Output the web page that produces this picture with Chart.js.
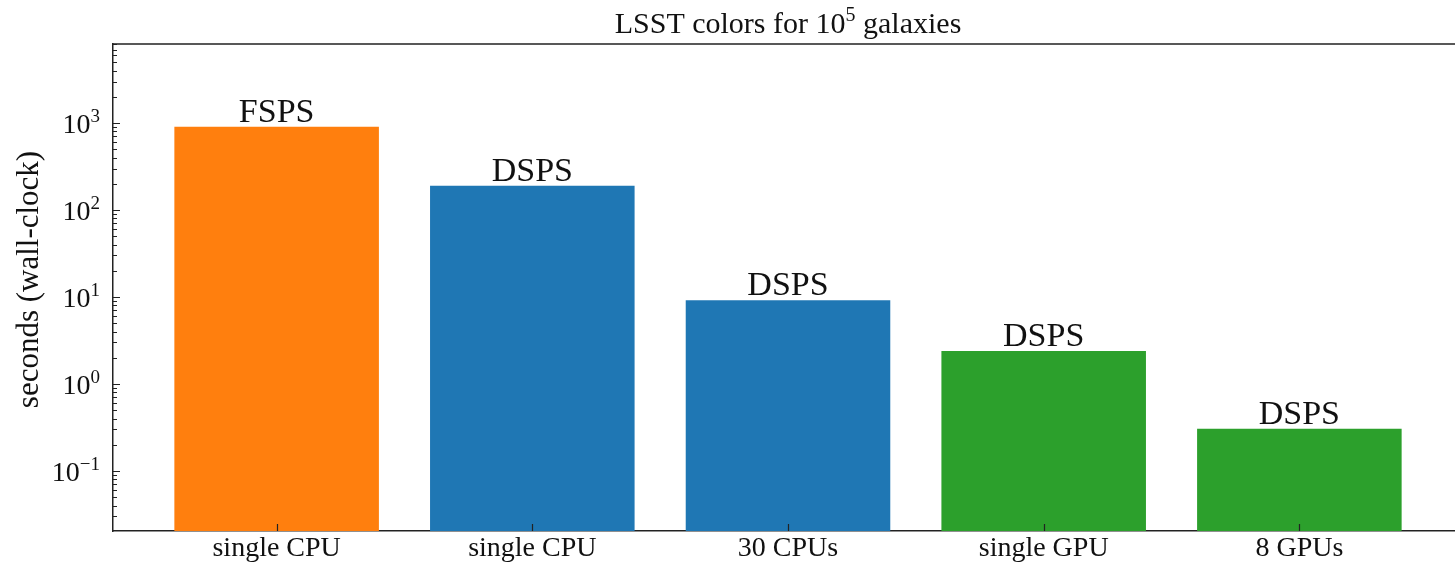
<!DOCTYPE html>
<html>
<head>
<meta charset="utf-8">
<script src="https://cdn.jsdelivr.net/npm/chart.js@4.4.0/dist/chart.umd.min.js"></script>
<style>
html, body { margin: 0; padding: 0; background: #fff; overflow: hidden; }
#wrap { position: relative; width: 1470px; height: 563px; }
</style>
</head>
<body>
<div id="wrap"><canvas id="chart"></canvas></div>
<script>
const categories = ["single CPU", "single CPU", "30 CPUs", "single GPU", "8 GPUs"]
const codes = ["FSPS", "DSPS", "DSPS", "DSPS", "DSPS"]
const seconds = [905, 190, 9.2, 2.4, 0.305]
const barColors = ["#ff7f0e", "#1f77b4", "#1f77b4", "#2ca02c", "#2ca02c"]
const yTickValues = [0.1, 1, 10, 100, 1000]
const yTickExps = ["\u22121", "0", "1", "2", "3"]
const yRange = [0.0204, 8100]
const xRange = [-0.64, 4.64]

const SERIF = '"Liberation Serif", "DejaVu Serif", serif'
const INK = "#222"

// matplotlib-like frame: inward ticks, superscript labels, bar annotations
const mplAxes = {
  id: "mplAxes",
  afterDraw(chart) {
    const { ctx, chartArea: a, scales } = chart
    const x = scales.x, y = scales.y
    ctx.save()
    ctx.strokeStyle = INK
    ctx.lineWidth = 1.5
    ctx.beginPath()
    ctx.moveTo(a.left, a.top); ctx.lineTo(a.right, a.top)
    ctx.moveTo(a.right, a.top); ctx.lineTo(a.right, a.bottom)
    ctx.stroke()

    ctx.lineWidth = 1.2
    ctx.beginPath()
    for (let k = Math.floor(Math.log10(y.min)); k <= Math.ceil(Math.log10(y.max)); k++) {
      for (let m = 1; m <= 9; m++) {
        const v = m * Math.pow(10, k)
        if (v < y.min || v > y.max) continue
        const py = Math.round(y.getPixelForValue(v)) + 0.5
        ctx.moveTo(a.left, py); ctx.lineTo(a.left + (m === 1 ? 7 : 4), py)
      }
    }
    categories.forEach((c, i) => {
      const px = Math.round(x.getPixelForValue(i)) + 0.5
      ctx.moveTo(px, a.bottom); ctx.lineTo(px, a.bottom - 7)
    })
    ctx.stroke()

    ctx.fillStyle = "#111"
    ctx.textBaseline = "alphabetic"
    yTickValues.forEach((v, i) => {
      const py = y.getPixelForValue(v)
      ctx.font = `19px ${SERIF}`
      const ew = ctx.measureText(yTickExps[i]).width
      const ex = a.left - 13 - ew
      ctx.textAlign = "left"
      ctx.fillText(yTickExps[i], ex, py - 1)
      ctx.font = `28px ${SERIF}`
      ctx.textAlign = "right"
      ctx.fillText("10", ex, py + 10)
    })

    const meta = chart.getDatasetMeta(0)
    ctx.font = `34px ${SERIF}`
    ctx.textAlign = "center"
    meta.data.forEach((bar, i) => {
      ctx.fillText(codes[i], bar.x, bar.y - 5)
    })

    // title with superscript
    const t1 = "LSST colors for 10", sup = "5", t2 = " galaxies"
    ctx.font = `30px ${SERIF}`
    const w1 = ctx.measureText(t1).width, w2 = ctx.measureText(t2).width
    ctx.font = `20px ${SERIF}`
    const ws = ctx.measureText(sup).width
    let tx = (a.left + a.right) / 2 - (w1 + ws + w2) / 2
    ctx.textAlign = "left"
    ctx.font = `30px ${SERIF}`
    ctx.fillText(t1, tx, 33)
    ctx.font = `20px ${SERIF}`
    ctx.fillText(sup, tx + w1, 21)
    ctx.font = `30px ${SERIF}`
    ctx.fillText(t2, tx + w1 + ws, 33)

    ctx.translate(30, (a.top + a.bottom) / 2 - 8)
    ctx.rotate(-Math.PI / 2)
    ctx.textAlign = "center"
    ctx.textBaseline = "middle"
    ctx.font = `31px ${SERIF}`
    ctx.fillText("seconds (wall-clock)", 0, 0)
    ctx.restore()
  }
}

new Chart(document.getElementById("chart"), {
  type: "bar",
  data: {
    datasets: [{
      data: seconds.map((v, i) => ({ x: i, y: v })),
      backgroundColor: barColors,
      borderWidth: 0,
      categoryPercentage: 1,
      barPercentage: 0.8
    }]
  },
  options: {
    responsive: true,
    maintainAspectRatio: false,
    animation: false,
    layout: { padding: { left: 0, top: 44, right: 7, bottom: 0 } },
    plugins: { legend: { display: false }, tooltip: { enabled: false } },
    scales: {
      x: {
        type: "linear",
        offset: false,
        min: xRange[0],
        max: xRange[1],
        afterBuildTicks: s => { s.ticks = categories.map((c, i) => ({ value: i })) },
        afterFit: s => { s.height = 32 },
        ticks: {
          callback: v => categories[v],
          color: "#111",
          font: { family: SERIF, size: 28 },
          padding: 1,
          autoSkip: false,
          maxRotation: 0
        },
        grid: { drawOnChartArea: false, drawTicks: false },
        border: { color: INK, width: 1.5 }
      },
      y: {
        type: "logarithmic",
        min: yRange[0],
        max: yRange[1],
        afterFit: s => { s.width = 113 },
        ticks: { display: false },
        grid: { drawOnChartArea: false, drawTicks: false },
        border: { color: INK, width: 1.5 }
      }
    }
  },
  plugins: [mplAxes]
})
</script>
</body>
</html>
